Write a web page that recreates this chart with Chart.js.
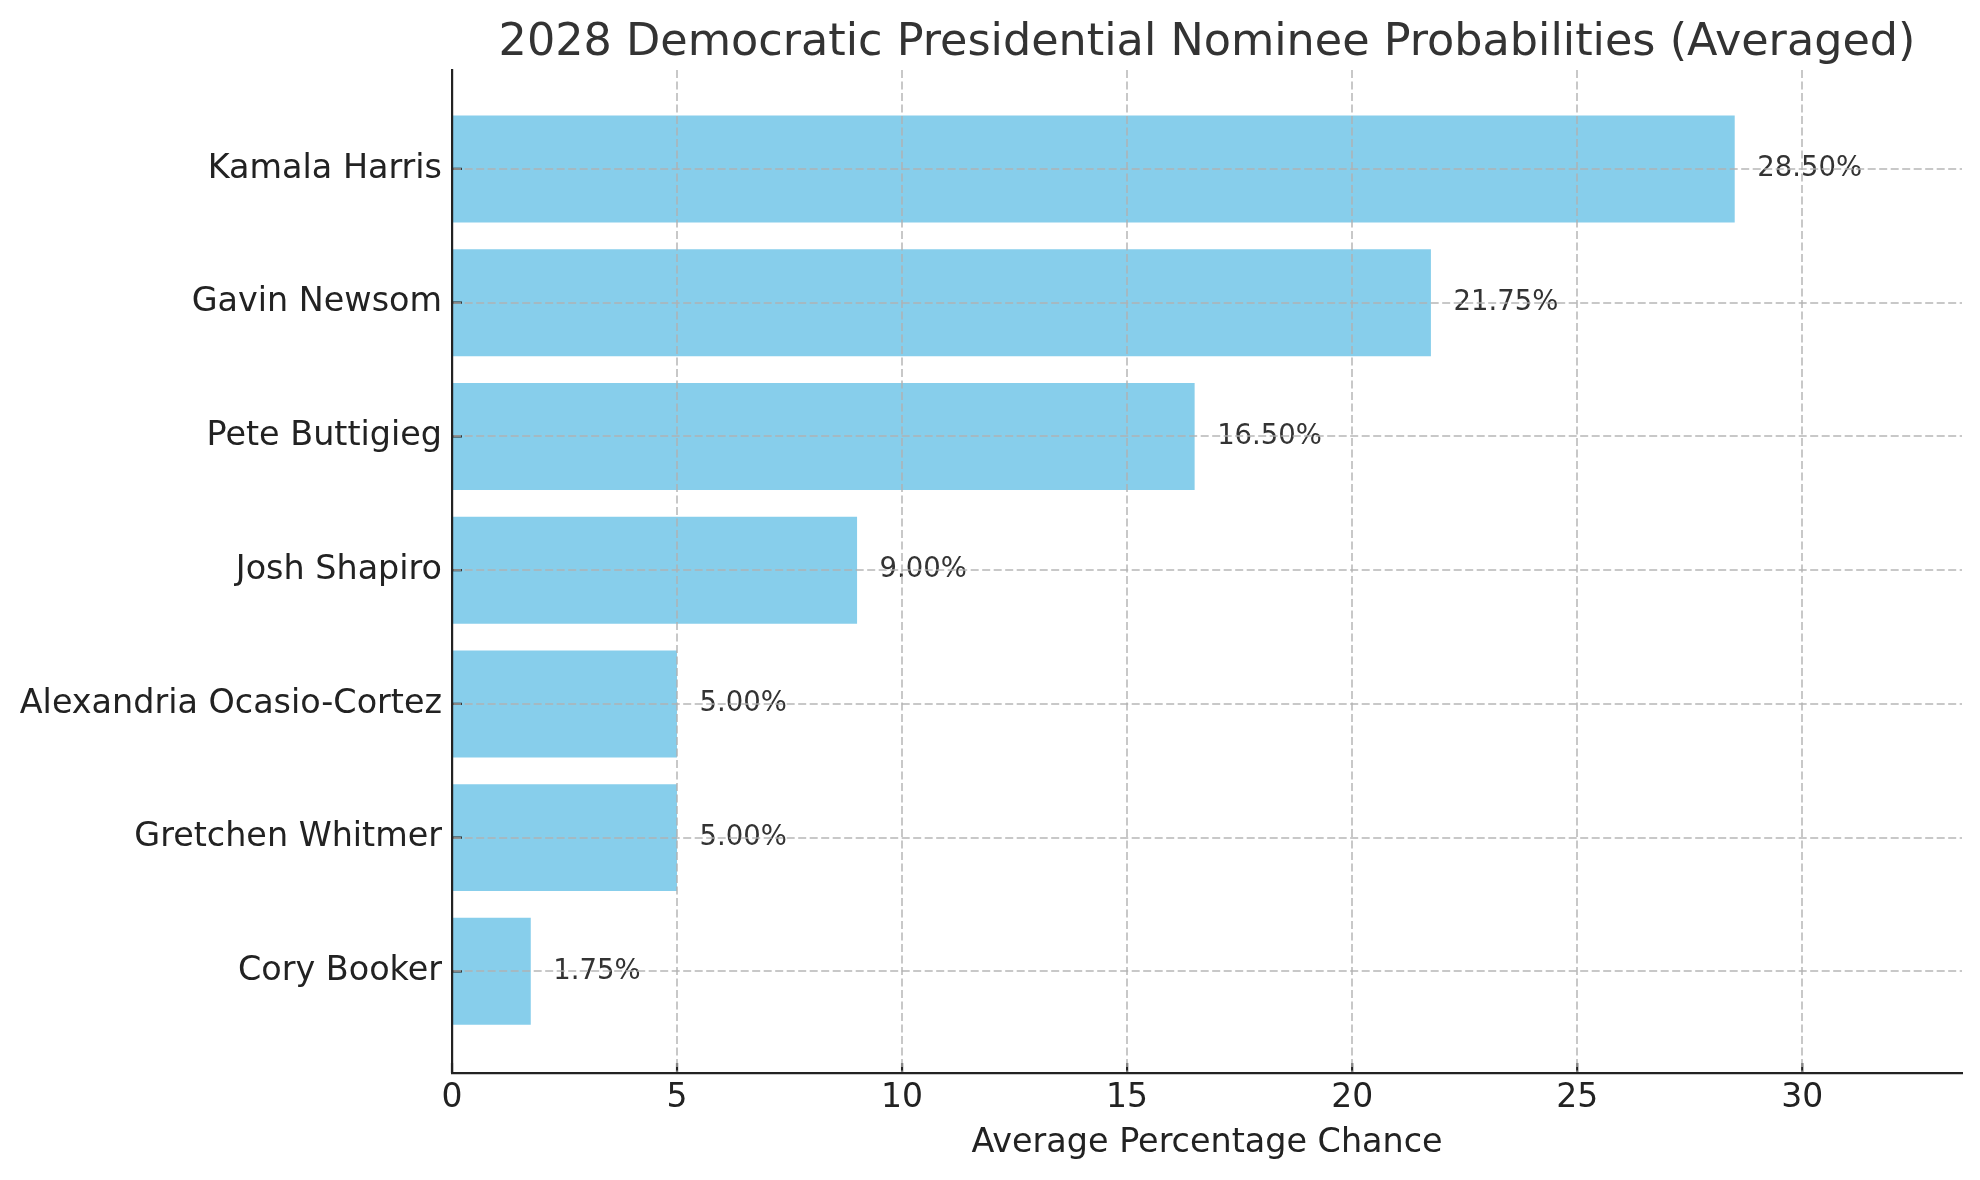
<!DOCTYPE html>
<html>
<head>
<meta charset="utf-8">
<title>2028 Democratic Presidential Nominee Probabilities (Averaged)</title>
<script src="https://cdn.jsdelivr.net/npm/chart.js@4.4.1/dist/chart.umd.min.js"></script>
<style>
  html, body { margin: 0; padding: 0; background: #fff; overflow: hidden; }
  #wrap { width: 1980px; height: 1180px; position: relative; }
</style>
</head>
<body>
<div id="wrap"><canvas id="grafica"></canvas></div>
<script>
// datos del grafico
const candidatos = [
    'Kamala Harris',
    'Gavin Newsom',
    'Pete Buttigieg',
    'Josh Shapiro',
    'Alexandria Ocasio-Cortez',
    'Gretchen Whitmer',
    'Cory Booker'
];
const promedios = [28.50, 21.75, 16.50, 9.00, 5.00, 5.00, 1.75];
const ticksX = [0, 5, 10, 15, 20, 25, 30];

const TITULO = '2028 Democratic Presidential Nominee Probabilities (Averaged)';
const FUENTE = 'DejaVu Sans';
const AZUL = '#87CEEB';
const TINTA = '#222222';

// titulo centrado sobre el area de los ejes, no sobre el lienzo
const pluginTitulo = {
    id: 'tituloEjes',
    afterDraw(chart) {
        const { ctx, chartArea } = chart;
        ctx.save();
        ctx.font = '44.5px "' + FUENTE + '"';
        ctx.fillStyle = '#333333';
        ctx.textAlign = 'center';
        ctx.textBaseline = 'middle';
        ctx.fillText(TITULO, (chartArea.left + chartArea.right) / 2, 43);
        ctx.restore();
    }
};

// marcas de los ticks hacia dentro y etiquetas de valor
const pluginMarcas = {
    id: 'marcas',
    afterDatasetsDraw(chart) {
        const { ctx, scales: { x, y } } = chart;
        ctx.save();
        ctx.strokeStyle = TINTA;
        ctx.lineWidth = 2.2;
        ctx.beginPath();
        x.ticks.forEach(t => {
            const px = x.getPixelForValue(t.value);
            ctx.moveTo(px, y.bottom);
            ctx.lineTo(px, y.bottom - 10);
        });
        y.ticks.forEach(t => {
            const py = y.getPixelForValue(t.value);
            ctx.moveTo(x.left, py);
            ctx.lineTo(x.left + 10, py);
        });
        ctx.stroke();

        ctx.font = '27.5px "' + FUENTE + '"';
        ctx.fillStyle = '#333333';
        ctx.textAlign = 'left';
        ctx.textBaseline = 'middle';
        promedios.forEach((v, i) => {
            ctx.fillText(v.toFixed(2) + '%', x.getPixelForValue(v + 0.5), y.getPixelForValue(i));
        });
        ctx.restore();
    }
};

function dibujarGrafica() {
    const ctx = document.getElementById('grafica').getContext('2d');
    const rejilla = {
        color: 'rgba(176, 176, 176, 0.7)',
        lineWidth: 2,
        drawTicks: false,
        offset: false,
        z: 1
    };
    const borde = { color: TINTA, width: 2.2, dash: [8, 3.5], z: 2 };

    new Chart(ctx, {
        type: 'bar',
        data: {
            datasets: [{
                label: 'Average Percentage Chance',
                data: promedios.map((v, i) => ({ x: v, y: i })),
                backgroundColor: AZUL,
                borderWidth: 0,
                categoryPercentage: 1,
                barPercentage: 0.8
            }]
        },
        options: {
            indexAxis: 'y',
            responsive: true,
            maintainAspectRatio: false,
            animation: false,
            layout: { padding: { top: 70, right: 18, bottom: 0, left: 0 } },
            plugins: {
                legend: { display: false },
                tooltip: { enabled: false },
                title: { display: false }
            },
            scales: {
                x: {
                    type: 'linear',
                    position: 'bottom',
                    min: 0,
                    max: 33.55,
                    offset: false,
                    afterBuildTicks: s => { s.ticks = ticksX.map(v => ({ value: v })); },
                    afterFit: s => { s.height = 107; },
                    grid: rejilla,
                    border: borde,
                    ticks: {
                        color: TINTA,
                        padding: 6,
                        maxRotation: 0,
                        font: { family: FUENTE, size: 33 }
                    },
                    title: {
                        display: true,
                        text: 'Average Percentage Chance',
                        color: TINTA,
                        font: { family: FUENTE, size: 33.4 },
                        padding: { top: 0, bottom: 17 }
                    }
                },
                y: {
                    type: 'linear',
                    position: 'left',
                    reverse: true,
                    min: -0.74,
                    max: 6.76,
                    offset: false,
                    afterBuildTicks: s => { s.ticks = candidatos.map((_, i) => ({ value: i })); },
                    afterFit: s => { s.width = 452; },
                    grid: rejilla,
                    border: borde,
                    ticks: {
                        color: TINTA,
                        padding: 10,
                        font: { family: FUENTE, size: 33.4 },
                        callback: v => candidatos[v]
                    }
                }
            }
        },
        plugins: [pluginTitulo, pluginMarcas]
    });
}

document.addEventListener('DOMContentLoaded', dibujarGrafica);
</script>
</body>
</html>
